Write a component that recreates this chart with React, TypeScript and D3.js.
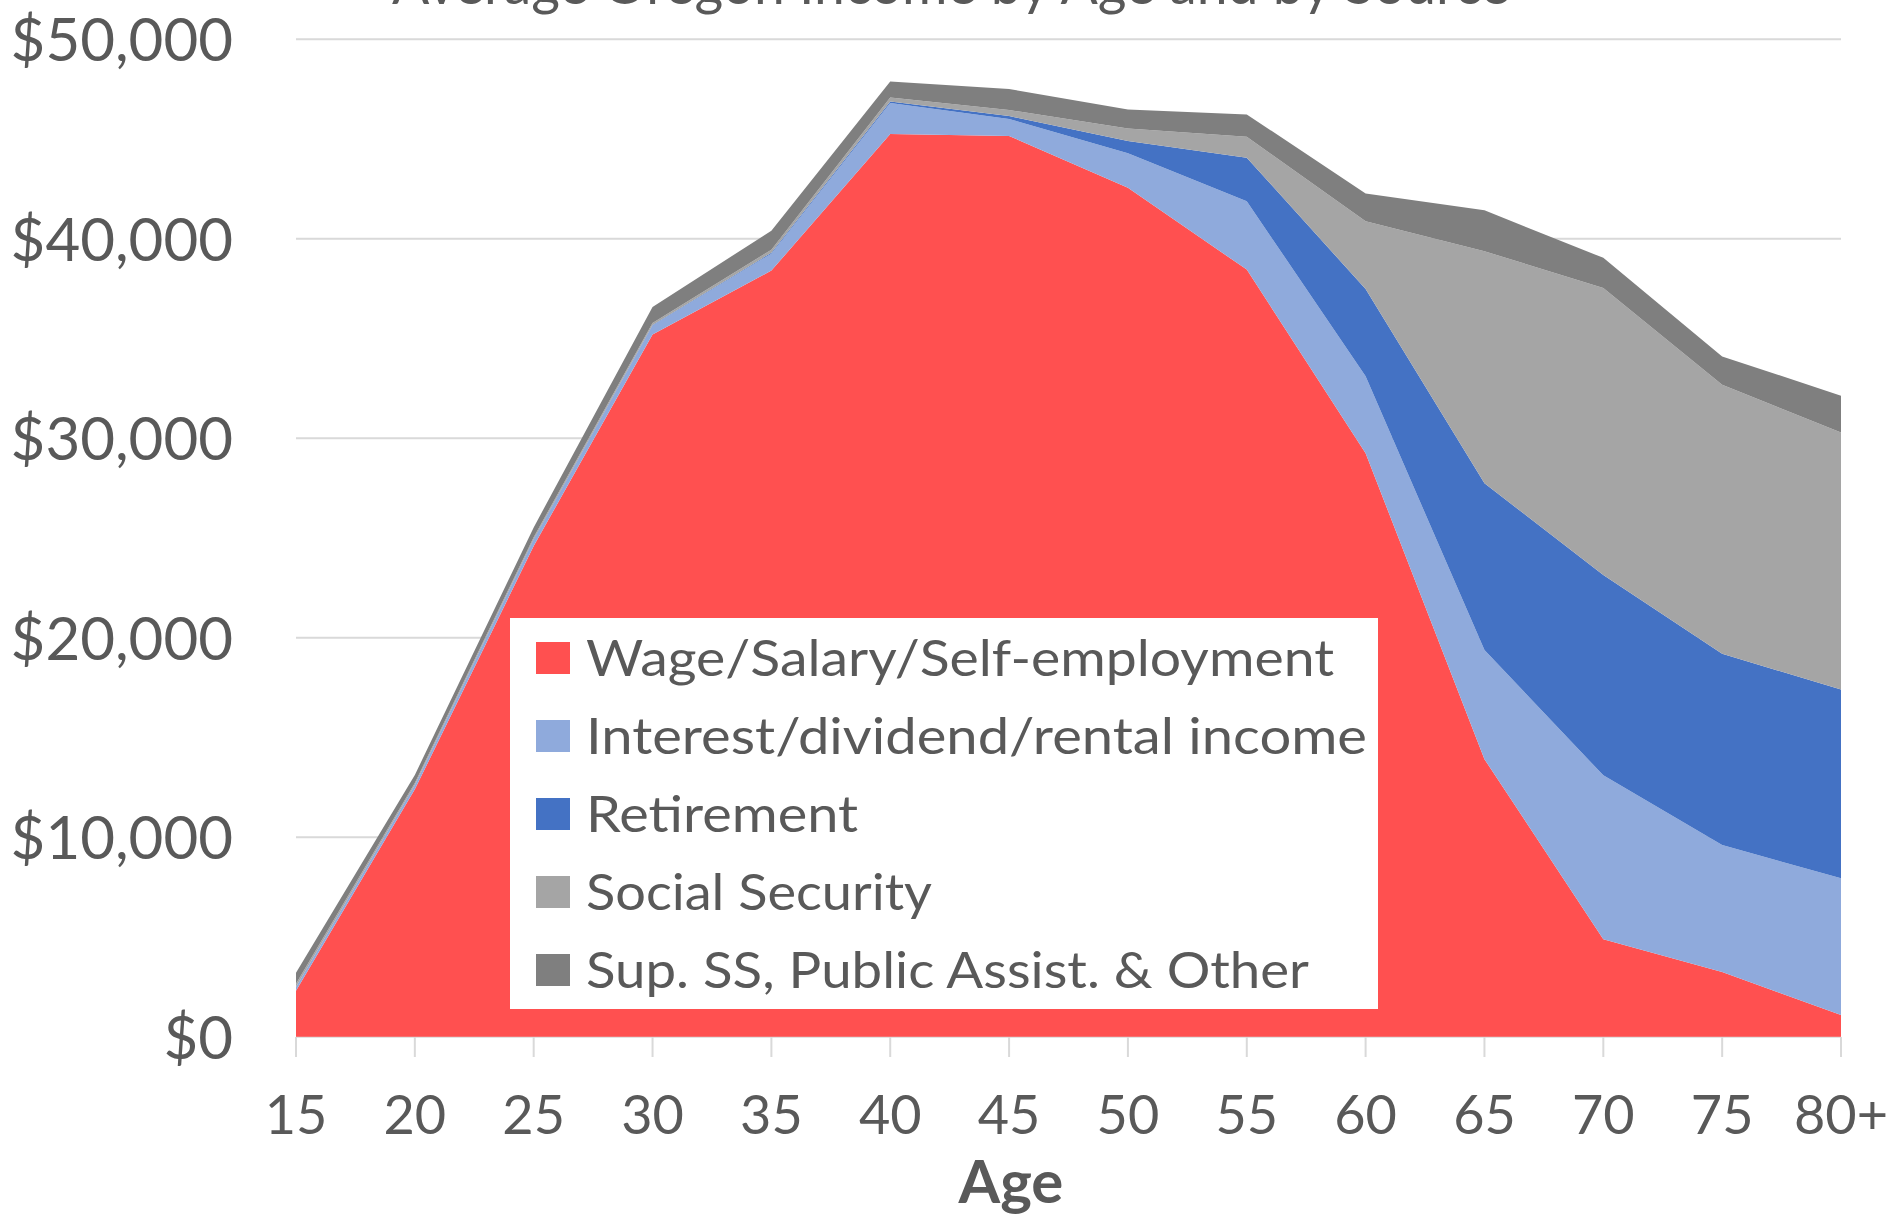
import React from 'react'
import * as d3 from 'd3'

// Average Oregon income by age and by source
const ages = ['15', '20', '25', '30', '35', '40', '45', '50', '55', '60', '65', '70', '75', '80+']
const wage = [2300, 12400, 24600, 35200, 38400, 45250, 45150, 42550, 38450, 29250, 13910, 4890, 3240, 1090]
const interest = [200, 200, 300, 450, 850, 1550, 850, 1730, 3430, 3850, 5470, 8210, 6370, 6850]
const retirement = [0, 20, 30, 30, 50, 80, 150, 620, 2180, 4380, 8360, 10040, 9590, 9460]
const socialSecurity = [150, 100, 100, 100, 150, 200, 300, 620, 1050, 3400, 11630, 14390, 13480, 12890]
const other = [550, 400, 500, 800, 950, 800, 1050, 950, 1120, 1390, 2050, 1510, 1420, 1840]

const seriesNames = [
  'Wage/Salary/Self-employment',
  'Interest/dividend/rental income',
  'Retirement',
  'Social Security',
  'Sup. SS, Public Assist. & Other',
]
const seriesValues = [wage, interest, retirement, socialSecurity, other]
const colors = ['#FF5050', '#8FAADC', '#4472C4', '#A5A5A5', '#7F7F7F']
const legendWidths = [748, 781, 272, 346, 723]
const yTicks = [0, 10000, 20000, 30000, 40000, 50000]

const W = 1893
const H = 1216
const font = 'Lato, "Open Sans", sans-serif'
const textColor = '#595959'

export default function App() {
  const x = d3.scalePoint<string>().domain(ages).range([296, 1841])
  const y = d3.scaleLinear().domain([0, 50000]).range([1036.7, 39.2])

  const keys = seriesNames.map((_, i) => String(i))
  const table = ages.map((a, j) => {
    const row: any = { age: a }
    seriesValues.forEach((vals, i) => { row[String(i)] = vals[j] })
    return row
  })
  const stacked = d3.stack<any>().keys(keys)(table)

  const area = d3.area<any>()
    .x((d) => x(d.data.age) as number)
    .y0((d) => y(d[0]))
    .y1((d) => y(d[1]))

  const fmt = (v: number) => '$' + d3.format(',')(v)

  return (
    <svg width={W} height={H} style={{ position: 'absolute', left: 0, top: 0, background: '#fff' }}>
      {/* title is cut off at the top edge, as in the reference */}
      <text x={951} y={4} textAnchor="middle" fontFamily={font} fontSize={56}
        fill={textColor} textLength={1118} lengthAdjust="spacingAndGlyphs">
        Average Oregon Income by Age and by Source
      </text>

      {/* gridlines */}
      {yTicks.map((t) => (
        <line key={t} x1={296} x2={1841} y1={y(t)} y2={y(t)} stroke="#D9D9D9" strokeWidth={2} />
      ))}

      {/* y labels */}
      {yTicks.map((t) => (
        <text key={'l' + t} x={233} y={y(t) + 22} textAnchor="end" fontFamily={font}
          fontSize={60} fill={textColor}>{fmt(t)}</text>
      ))}

      {/* stacked areas */}
      {stacked.map((s, i) => (
        <path key={i} d={area(s) as string} fill={colors[i]} />
      ))}

      {/* x axis ticks and labels */}
      {ages.map((a) => (
        <g key={a}>
          <line x1={x(a)} x2={x(a)} y1={1037} y2={1057} stroke="#D9D9D9" strokeWidth={2} />
          <text x={x(a)} y={1134} textAnchor="middle" fontFamily={font} fontSize={54}
            fill={textColor}>{a}</text>
        </g>
      ))}

      <text x={1011} y={1203} textAnchor="middle" fontFamily={font} fontSize={60}
        fontWeight="bold" fill={textColor}>Age</text>

      {/* legend */}
      <rect x={510} y={618} width={868} height={391} fill="#fff" />
      {seriesNames.map((n, i) => {
        const cy = 658 + i * 78
        return (
          <g key={n}>
            <rect x={536} y={cy - 16} width={34} height={32} fill={colors[i]} />
            <text x={586} y={cy + 18} fontFamily={font} fontSize={51} fill={textColor}
              textLength={legendWidths[i]} lengthAdjust="spacingAndGlyphs">{n}</text>
          </g>
        )
      })}
    </svg>
  )
}
